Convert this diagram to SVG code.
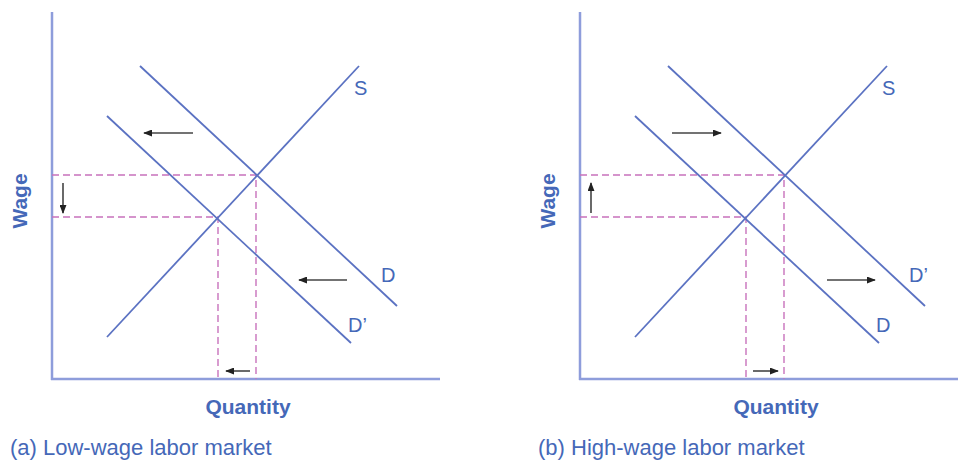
<svg xmlns="http://www.w3.org/2000/svg" width="958" height="462" viewBox="0 0 958 462">
<defs>
<marker id="ah" viewBox="0 0 10 10" refX="9" refY="5" markerWidth="9" markerHeight="7" orient="auto" markerUnits="userSpaceOnUse" preserveAspectRatio="none">
<path d="M0,0 L10,5 L0,10 z" fill="#222"/>
</marker>
<style>
.bg{fill:#fff}
.axis{stroke:#8e9ddb;stroke-width:2.5;fill:none}
.curve{stroke:#5b72c2;stroke-width:1.8;fill:none}
.dash{stroke:#c872bc;stroke-width:1.4;stroke-dasharray:7,4;fill:none}
.arr{stroke:#444;stroke-width:1.6;fill:none;marker-end:url(#ah)}
.lbl{font-family:"Liberation Sans",Arial,sans-serif;font-size:20px;fill:#4568b8}
.ax{font-family:"Liberation Sans",Arial,sans-serif;font-size:21px;font-weight:bold;fill:#4568b8}
.cap{font-family:"Liberation Sans",Arial,sans-serif;font-size:22px;fill:#4568b8}
</style>
</defs>
<rect class="bg" x="0" y="0" width="958" height="462"/>

<g id="panel-a">
  <g id="axes-a">
    <line class="axis" x1="52" y1="12" x2="52" y2="380"/>
    <line class="axis" x1="51" y1="379" x2="440" y2="379"/>
  </g>
  <g id="dashes-a">
    <path class="dash" d="M52,175 H256 V379"/>
    <path class="dash" d="M52,217 H218 V379"/>
  </g>
  <g id="curve-S-a"><line class="curve" x1="107" y1="337" x2="359" y2="66"/><text class="lbl" x="354" y="95">S</text></g>
  <g id="curve-D-a"><line class="curve" x1="140" y1="66" x2="397" y2="306"/><text class="lbl" x="381" y="282">D</text></g>
  <g id="curve-D2-a"><line class="curve" x1="107" y1="116" x2="351" y2="343"/><text class="lbl" x="348" y="332">D’</text></g>
  <g id="arrows-a">
    <line class="arr" x1="193" y1="133" x2="144" y2="133"/>
    <line class="arr" x1="347" y1="280" x2="299" y2="280"/>
    <line class="arr" x1="63" y1="183" x2="63" y2="213"/>
    <line class="arr" x1="250" y1="371" x2="226" y2="371"/>
  </g>
  <text class="ax" transform="translate(27,201) rotate(-90)" text-anchor="middle">Wage</text>
  <text class="ax" x="248" y="414" text-anchor="middle">Quantity</text>
  <text class="cap" x="10" y="455">(a) Low-wage labor market</text>
</g>

<g id="panel-b">
  <g id="axes-b">
    <line class="axis" x1="580" y1="12" x2="580" y2="380"/>
    <line class="axis" x1="579" y1="379" x2="958" y2="379"/>
  </g>
  <g id="dashes-b">
    <path class="dash" d="M580,175 H784 V379"/>
    <path class="dash" d="M580,217 H746 V379"/>
  </g>
  <g id="curve-S-b"><line class="curve" x1="635" y1="337" x2="887" y2="66"/><text class="lbl" x="882" y="95">S</text></g>
  <g id="curve-D2-b"><line class="curve" x1="668" y1="66" x2="925" y2="306"/><text class="lbl" x="909" y="282">D’</text></g>
  <g id="curve-D-b"><line class="curve" x1="635" y1="116" x2="879" y2="343"/><text class="lbl" x="876" y="332">D</text></g>
  <g id="arrows-b">
    <line class="arr" x1="672" y1="133" x2="721" y2="133"/>
    <line class="arr" x1="827" y1="280" x2="875" y2="280"/>
    <line class="arr" x1="591" y1="213" x2="591" y2="183"/>
    <line class="arr" x1="753" y1="371" x2="778" y2="371"/>
  </g>
  <text class="ax" transform="translate(555,201) rotate(-90)" text-anchor="middle">Wage</text>
  <text class="ax" x="776" y="414" text-anchor="middle">Quantity</text>
  <text class="cap" x="538" y="455">(b) High-wage labor market</text>
</g>
</svg>
